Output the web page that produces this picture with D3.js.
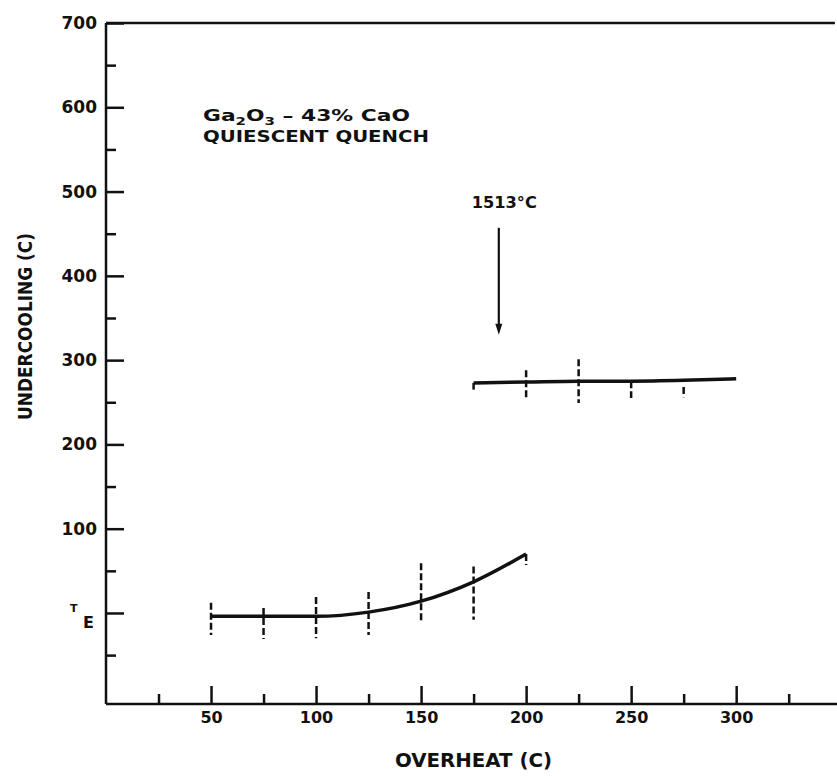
<!DOCTYPE html>
<html>
<head>
<meta charset="utf-8">
<style>
    body { margin: 0; background: #fff; }
    svg { display: block; }
    text { font-family: "DejaVu Sans", sans-serif; font-weight: bold; fill: #111; }
    .axis path { display: none; }
    .axis line { stroke: #111; stroke-width: 2.5; }
</style>
</head>
<body>
<div id="containerChart"></div>
<script src="https://cdn.jsdelivr.net/npm/d3@7/dist/d3.min.js"></script>
<script>
    // lower curve (overheat 50..200)
    var lowerX = [50, 75, 100, 125, 150, 175, 200];
    var lowerMean = [-4, -4, -4, 1, 14, 37, 70];
    var lowerHigh = [12, 6, 19, 25, 59, 55, 70];
    var lowerLow = [-26, -31, -30, -26, -11, -8, 57];

    // upper line (overheat 175..300)
    var upperX = [175, 200, 225, 250, 275, 300];
    var upperMean = [273, 274, 275, 275, 276, 278];
    var upperHigh = [273, 288, 301, 275, 268, null];
    var upperLow = [265, 254, 249, 255, 256, null];

    // ticks
    var xMajorTicks = [50, 100, 150, 200, 250, 300];
    var xMinorTicks = [25, 75, 125, 175, 225, 275, 325];
    var yMajorTicks = [0, 100, 200, 300, 400, 500, 600, 700];
    var yMinorTicks = [-50, 50, 150, 250, 350, 450, 550, 650];

    // 1513 C marker
    var markerX = 187;
    var markerTop = 457;
    var markerTip = 330;

    var svgWidth = 837;
    var svgHeight = 777;

    var svg = d3.select("#containerChart")
        .append("svg")
        .attr("width", svgWidth)
        .attr("height", svgHeight);

    svg.append("rect").attr("width", svgWidth).attr("height", svgHeight).attr("fill", "#fff");

    var xScale = d3.scaleLinear().domain([0, 348]).range([106, 837]);
    var yScale = d3.scaleLinear().domain([-108, 700]).range([704, 23]);

    // X axis ticks (pointing inward)
    svg.append("g")
        .attr("class", "axis")
        .attr("transform", "translate(0," + yScale(-108) + ")")
        .call(d3.axisBottom(xScale).tickValues(xMinorTicks).tickSize(-10).tickFormat(""));

    var xAxis = svg.append("g")
        .attr("class", "axis")
        .attr("transform", "translate(0," + yScale(-108) + ")")
        .call(d3.axisBottom(xScale).tickValues(xMajorTicks).tickSize(-18).tickPadding(8));
    xAxis.selectAll("text").style("font-size", "16px").attr("fill", "#111");

    // Y axis ticks
    svg.append("g")
        .attr("class", "axis")
        .attr("transform", "translate(" + xScale(0) + ",0)")
        .call(d3.axisLeft(yScale).tickValues(yMinorTicks).tickSize(-10).tickFormat(""));

    var yAxis = svg.append("g")
        .attr("class", "axis")
        .attr("transform", "translate(" + xScale(0) + ",0)")
        .call(d3.axisLeft(yScale).tickValues(yMajorTicks).tickSize(-18).tickPadding(9)
            .tickFormat(function (d) { return d === 0 ? "" : d; }));
    yAxis.selectAll("text").style("font-size", "17px").attr("fill", "#111");

    // T_E label at 0
    var te = svg.append("g").attr("transform", "translate(70," + yScale(0) + ")");
    te.append("text").attr("x", 0).attr("y", -1).style("font-size", "11px").text("T");
    te.append("text").attr("x", 13).attr("y", 15).style("font-size", "16px").text("E");

    // frame lines: left axis, bottom axis, top border
    svg.append("line")
        .attr("x1", xScale(0)).attr("x2", xScale(0))
        .attr("y1", yScale(700)).attr("y2", yScale(-108))
        .attr("stroke", "#111").attr("stroke-width", 2.5);
    svg.append("line")
        .attr("x1", xScale(0)).attr("x2", xScale(348))
        .attr("y1", yScale(-108)).attr("y2", yScale(-108))
        .attr("stroke", "#111").attr("stroke-width", 2.5);
    svg.append("line")
        .attr("x1", xScale(0)).attr("x2", xScale(347))
        .attr("y1", yScale(700)).attr("y2", yScale(700))
        .attr("stroke", "#111").attr("stroke-width", 2.5);

    // axis titles
    svg.append("text")
        .attr("x", 395).attr("y", 767)
        .attr("textLength", 157).attr("lengthAdjust", "spacingAndGlyphs")
        .style("font-size", "19px")
        .text("OVERHEAT (C)");

    svg.append("text")
        .attr("transform", "translate(32,420) rotate(-90)")
        .attr("textLength", 187).attr("lengthAdjust", "spacingAndGlyphs")
        .style("font-size", "19px")
        .text("UNDERCOOLING (C)");

    // composition note
    var note = svg.append("text")
        .attr("x", 203).attr("y", 121)
        .attr("textLength", 207).attr("lengthAdjust", "spacingAndGlyphs")
        .style("font-size", "16px");
    note.append("tspan").text("Ga");
    note.append("tspan").attr("dy", 4).style("font-size", "11px").text("2");
    note.append("tspan").attr("dy", -4).text("O");
    note.append("tspan").attr("dy", 4).style("font-size", "11px").text("3");
    note.append("tspan").attr("dy", -4).text(" \u2013 43% CaO");

    svg.append("text")
        .attr("x", 203).attr("y", 142)
        .attr("textLength", 226).attr("lengthAdjust", "spacingAndGlyphs")
        .style("font-size", "16px")
        .text("QUIESCENT QUENCH");

    // 1513 C arrow
    svg.append("text")
        .attr("x", xScale(markerX) - 27).attr("y", 208)
        .attr("textLength", 65).attr("lengthAdjust", "spacingAndGlyphs")
        .style("font-size", "16px")
        .text("1513\u00B0C");

    svg.append("line")
        .attr("x1", xScale(markerX)).attr("x2", xScale(markerX))
        .attr("y1", yScale(markerTop)).attr("y2", yScale(markerTip) - 8)
        .attr("stroke", "#111").attr("stroke-width", 2.2);
    svg.append("path")
        .attr("d", "M" + (xScale(markerX) - 3.5) + "," + (yScale(markerTip) - 11) +
            "L" + (xScale(markerX) + 3.5) + "," + (yScale(markerTip) - 11) +
            "L" + xScale(markerX) + "," + yScale(markerTip) + "Z")
        .attr("fill", "#111");

    // error bars
    function drawBars(xs, hi, lo) {
        var idx = d3.range(xs.length).filter(function (i) { return hi[i] !== null; });
        svg.append("g").selectAll("line")
            .data(idx)
            .enter().append("line")
            .attr("x1", function (i) { return xScale(xs[i]); })
            .attr("x2", function (i) { return xScale(xs[i]); })
            .attr("y1", function (i) { return yScale(hi[i]); })
            .attr("y2", function (i) { return yScale(lo[i]); })
            .attr("stroke", "#111")
            .attr("stroke-width", 2.5)
            .attr("stroke-dasharray", "7,3");
    }
    drawBars(lowerX, lowerHigh, lowerLow);
    drawBars(upperX, upperHigh, upperLow);

    // curves
    var lowerLine = d3.line()
        .x(function (d, i) { return xScale(lowerX[i]); })
        .y(function (d) { return yScale(d); })
        .curve(d3.curveMonotoneX);
    svg.append("path")
        .attr("d", lowerLine(lowerMean))
        .attr("fill", "none").attr("stroke", "#111").attr("stroke-width", 3.5);

    var upperLine = d3.line()
        .x(function (d, i) { return xScale(upperX[i]); })
        .y(function (d) { return yScale(d); })
        .curve(d3.curveMonotoneX);
    svg.append("path")
        .attr("d", upperLine(upperMean))
        .attr("fill", "none").attr("stroke", "#111").attr("stroke-width", 3.5);
</script>
</body>
</html>
